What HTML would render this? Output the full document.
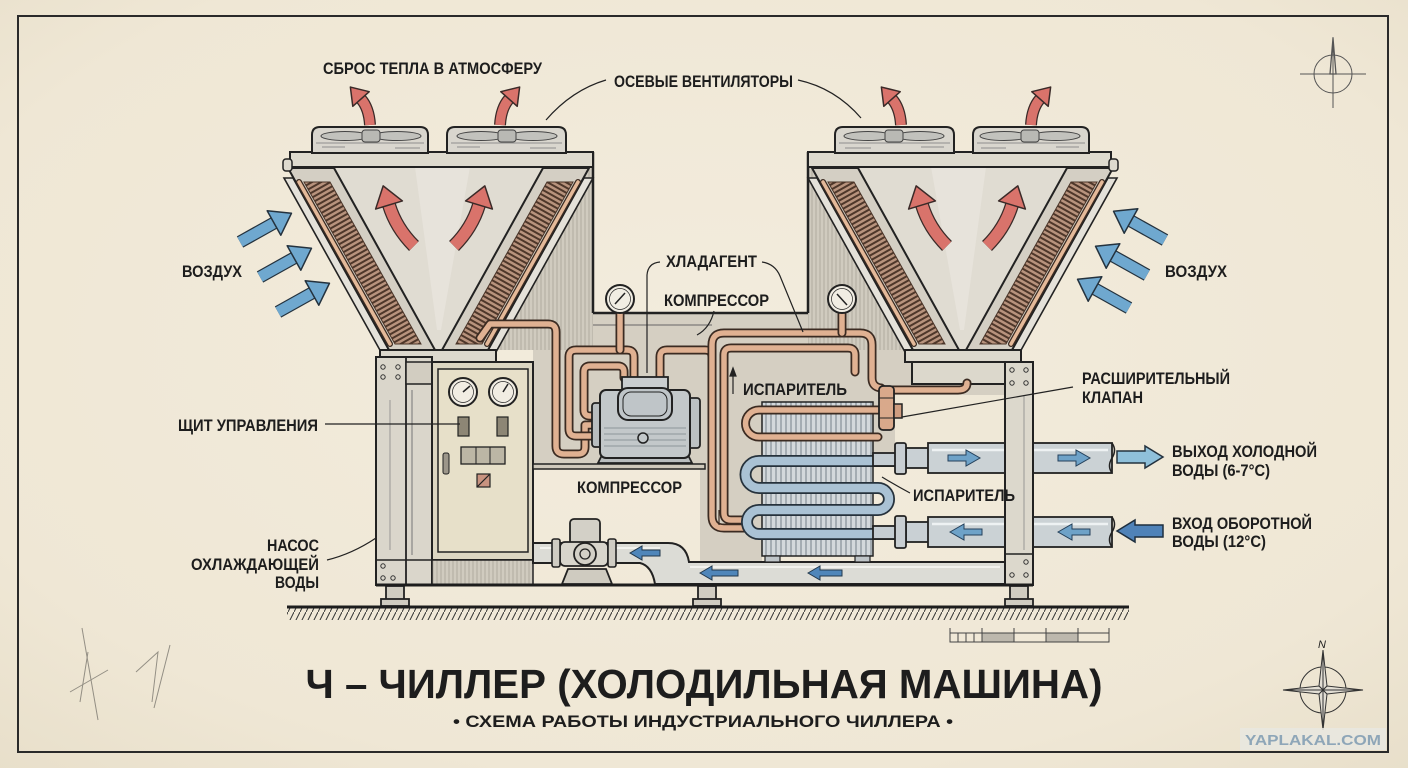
<!DOCTYPE html>
<html><head><meta charset="utf-8"><title>Чиллер</title>
<style>
html,body{margin:0;padding:0;background:#efe8d7;overflow:hidden}
svg{display:block}
text{font-family:"Liberation Sans","DejaVu Sans",sans-serif;fill:#1d1d1d}
.lb{font-size:16.5px;font-weight:bold}
.ld{fill:none;stroke:#222;stroke-width:1.2}
.cpo{fill:none;stroke:#3b2b22;stroke-width:9;stroke-linejoin:round;stroke-linecap:round}
.cpi{fill:none;stroke:#e0b192;stroke-width:5.5;stroke-linejoin:round;stroke-linecap:round}
.bo{fill:none;stroke:#26323c;stroke-width:12;stroke-linejoin:round}
.bi{fill:none;stroke:#aac2d4;stroke-width:8.5;stroke-linejoin:round}
.ro{fill:none;stroke:#3a2a28;stroke-width:12}
.ri{fill:none;stroke:#d9736b;stroke-width:9.5}
.rO{fill:none;stroke:#3a2a28;stroke-width:14}
.rI{fill:none;stroke:#d9736b;stroke-width:11.5}
.ao{fill:none;stroke:#24323e;stroke-width:13}
.ai{fill:none;stroke:#6fa8cf;stroke-width:10.5}
</style></head><body>
<svg width="1408" height="768" viewBox="0 0 1408 768" xmlns="http://www.w3.org/2000/svg">
<defs>
 <radialGradient id="bg" cx="50%" cy="45%" r="75%">
  <stop offset="0" stop-color="#f3ecdd"/>
  <stop offset="0.75" stop-color="#efe7d5"/>
  <stop offset="1" stop-color="#e8dfca"/>
 </radialGradient>
 <pattern id="coil" patternUnits="userSpaceOnUse" width="4.5" height="4.5" patternTransform="rotate(60.7)">
  <rect width="4.5" height="4.5" fill="#b8937d"/>
  <path d="M1,0 L1,4.5" stroke="#4e372a" stroke-width="2"/>
 </pattern>
 <pattern id="coil2" patternUnits="userSpaceOnUse" width="4.5" height="4.5" patternTransform="rotate(-60.7)">
  <rect width="4.5" height="4.5" fill="#b8937d"/>
  <path d="M1,0 L1,4.5" stroke="#4e372a" stroke-width="2"/>
 </pattern>
 <pattern id="vh" patternUnits="userSpaceOnUse" width="4" height="4">
  <rect width="4" height="4" fill="#d0cbbf"/>
  <path d="M1,0 L1,4" stroke="#a29d92" stroke-width="0.7"/>
 </pattern>
 <pattern id="fins" patternUnits="userSpaceOnUse" width="5" height="10">
  <rect width="5" height="10" fill="#d3d8db"/>
  <path d="M1,0 L1,10" stroke="#7d8990" stroke-width="1.1"/>
 </pattern>
 <pattern id="gh" patternUnits="userSpaceOnUse" width="6" height="12">
  <path d="M0,12 L6,0" stroke="#333" stroke-width="1"/>
 </pattern>
 <marker id="rhS" markerUnits="userSpaceOnUse" viewBox="0 0 16 22" refX="0" refY="11" markerWidth="16" markerHeight="22" orient="auto" style="overflow:visible">
  <path d="M0,0 L16,11 L0,22 Z" fill="#d9736b" stroke="#3a2a28" stroke-width="1.5" stroke-linejoin="round"/>
 </marker>
 <marker id="rhL" markerUnits="userSpaceOnUse" viewBox="0 0 20 28" refX="0" refY="14" markerWidth="20" markerHeight="28" orient="auto" style="overflow:visible">
  <path d="M0,0 L20,14 L0,28 Z" fill="#d9736b" stroke="#3a2a28" stroke-width="1.5" stroke-linejoin="round"/>
 </marker>
 <marker id="bh" markerUnits="userSpaceOnUse" viewBox="0 0 20 28" refX="0" refY="14" markerWidth="20" markerHeight="28" orient="auto" style="overflow:visible">
  <path d="M0,0 L20,14 L0,28 Z" fill="#6fa8cf" stroke="#24323e" stroke-width="1.5" stroke-linejoin="round"/>
 </marker>

 <g id="uL">
  <polygon points="580,166 593,166 593,350 486,350" fill="url(#vh)"/>
  <line x1="593" y1="152" x2="593" y2="313" stroke="#222" stroke-width="2.5"/>
  <polygon points="333,167 544,167 442,350 435,350" fill="#e0dcd2"/>
  <polygon points="415,167 470,167 441,330 437,330" fill="#e9e6de" opacity="0.7"/>
  <polygon points="284,178 293,178 390,352 381,352" fill="#e4e1d9" stroke="#222" stroke-width="1.6"/>
  <polygon points="288,168 334,168 435,350 389,350" fill="#d4cfc4" stroke="#222" stroke-width="2"/>
  <polygon points="304,182 330,182 421,344 395,344" fill="url(#coil)" stroke="#4a3428" stroke-width="1"/>
  <line x1="299" y1="182" x2="390" y2="344" stroke="#3b2b22" stroke-width="6" stroke-linecap="round"/>
  <line x1="299" y1="182" x2="390" y2="344" stroke="#e4b999" stroke-width="3.5" stroke-linecap="round"/>
  <polygon points="593,178 584,178 487,352 496,352" fill="#e4e1d9" stroke="#222" stroke-width="1.6"/>
  <polygon points="589,168 543,168 442,350 488,350" fill="#d4cfc4" stroke="#222" stroke-width="2"/>
  <polygon points="573,182 547,182 456,344 482,344" fill="url(#coil2)" stroke="#4a3428" stroke-width="1"/>
  <line x1="578" y1="182" x2="487" y2="344" stroke="#3b2b22" stroke-width="6" stroke-linecap="round"/>
  <line x1="578" y1="182" x2="487" y2="344" stroke="#e4b999" stroke-width="3.5" stroke-linecap="round"/>
  <rect x="380" y="350" width="116" height="12" fill="#dcd8cd" stroke="#222" stroke-width="2"/>
  <rect x="290" y="152" width="303" height="15" fill="#dedace" stroke="#222" stroke-width="2"/>
  <rect x="283" y="159" width="9" height="12" rx="3" fill="#dedace" stroke="#222" stroke-width="1.5"/>
  <path d="M312,153 L312,135 Q312,127 320,127 L420,127 Q428,127 428,135 L428,153 Z" fill="#d9d6ce" stroke="#222" stroke-width="2"/>
  <path d="M447,153 L447,135 Q447,127 455,127 L558,127 Q566,127 566,135 L566,153 Z" fill="#d9d6ce" stroke="#222" stroke-width="2"/>
  <g fill="#c2c2bd" stroke="#444" stroke-width="1">
   <ellipse cx="345" cy="136" rx="24" ry="4.5"/><ellipse cx="397" cy="136" rx="24" ry="4.5"/>
   <rect x="362" y="130" width="18" height="12" rx="3" fill="#b9b9b4"/>
   <ellipse cx="481" cy="136" rx="24" ry="4.5"/><ellipse cx="533" cy="136" rx="24" ry="4.5"/>
   <rect x="498" y="130" width="18" height="12" rx="3" fill="#b9b9b4"/>
  </g>
  <g stroke="#777" stroke-width="0.8">
   <line x1="316" y1="143" x2="424" y2="143"/><line x1="451" y1="143" x2="562" y2="143"/>
   <line x1="322" y1="147" x2="345" y2="147"/><line x1="395" y1="148" x2="420" y2="148"/>
   <line x1="457" y1="147" x2="480" y2="147"/><line x1="530" y1="148" x2="556" y2="148"/>
  </g>
  <path class="ro" d="M370,125 Q369,108 361,99"/><path class="ri" d="M370,125 Q369,108 361,99" marker-end="url(#rhS)"/>
  <path class="ro" d="M500,125 Q501,108 509,99"/><path class="ri" d="M500,125 Q501,108 509,99" marker-end="url(#rhS)"/>
  <path class="rO" d="M414,246 Q396,228 389,205"/><path class="rI" d="M414,246 Q396,228 389,205" marker-end="url(#rhL)"/>
  <path class="rO" d="M454,246 Q472,228 479,205"/><path class="rI" d="M454,246 Q472,228 479,205" marker-end="url(#rhL)"/>
 </g>
</defs>

<rect width="1408" height="768" fill="url(#bg)"/>
<rect x="18" y="16" width="1370" height="736" fill="none" stroke="#2a2a2a" stroke-width="2"/>

<g stroke="#555" fill="none" stroke-width="1">
 <circle cx="1333" cy="74" r="19"/>
 <line x1="1300" y1="74" x2="1366" y2="74"/>
 <line x1="1333" y1="37" x2="1333" y2="108"/>
 <polygon points="1330,74 1336,74 1333,38" stroke-width="1.3"/>
</g>

<g stroke="#6d6a63" stroke-width="1" fill="none" opacity="0.7">
 <path d="M82,628 L98,720"/><path d="M70,692 L108,670"/><path d="M88,652 L80,702"/>
 <path d="M136,672 L158,652 L152,702"/><path d="M170,645 L154,708"/>
</g>

<rect x="533" y="313" width="472" height="154" fill="#d5cfc2"/>
<rect x="700" y="467" width="62" height="95" fill="#d5cfc2"/>
<rect x="895" y="395" width="110" height="72" fill="#efe8d7"/>
<line x1="593" y1="313" x2="808" y2="313" stroke="#222" stroke-width="2.5"/>
<line x1="560" y1="325" x2="712" y2="325" stroke="#666" stroke-width="1"/>

<use href="#uL"/>
<use href="#uL" transform="translate(1401,0) scale(-1,1)"/>

<rect x="912" y="362" width="93" height="22" fill="#dcd8cc" stroke="#222" stroke-width="2"/>

<rect x="376" y="357" width="56" height="228" fill="#dad6cb" stroke="#222" stroke-width="2"/>
<line x1="406" y1="357" x2="406" y2="585" stroke="#222" stroke-width="1.8"/>
<rect x="406" y="362" width="26" height="22" fill="#d2cdc1" stroke="#222" stroke-width="1.5"/>
<line x1="412" y1="390" x2="412" y2="555" stroke="#777" stroke-width="1"/>
<line x1="390" y1="400" x2="390" y2="550" stroke="#888" stroke-width="0.8"/>
<g fill="none" stroke="#333" stroke-width="1">
 <circle cx="383" cy="367" r="2.2"/><circle cx="398" cy="367" r="2.2"/>
 <circle cx="383" cy="377" r="2.2"/><circle cx="398" cy="377" r="2.2"/>
 <circle cx="383" cy="566" r="2.2"/><circle cx="383" cy="578" r="2.2"/><circle cx="393" cy="578" r="2.2"/>
</g>
<line x1="376" y1="560" x2="432" y2="560" stroke="#222" stroke-width="1.5"/>

<rect x="432" y="362" width="101" height="198" fill="#dcd6c2" stroke="#222" stroke-width="2"/>
<rect x="438" y="369" width="90" height="183" fill="#e7e0c9" stroke="#222" stroke-width="1.5"/>
<rect x="432" y="560" width="101" height="25" fill="url(#vh)" stroke="#222" stroke-width="1.5"/>
<g stroke="#222">
 <circle cx="463" cy="392" r="14" fill="#f1ede3" stroke-width="2"/>
 <circle cx="463" cy="392" r="10.5" fill="none" stroke-width="0.7"/>
 <line x1="463" y1="392" x2="470" y2="386" stroke-width="1.5"/>
 <circle cx="503" cy="392" r="14" fill="#f1ede3" stroke-width="2"/>
 <circle cx="503" cy="392" r="10.5" fill="none" stroke-width="0.7"/>
 <line x1="503" y1="392" x2="508" y2="384" stroke-width="1.5"/>
 <rect x="458" y="417" width="11" height="19" fill="#8d8675" stroke-width="1.2"/>
 <rect x="497" y="417" width="11" height="19" fill="#8d8675" stroke-width="1.2"/>
 <rect x="461" y="447" width="44" height="17" fill="#bcb6a5" stroke-width="1.3"/>
 <line x1="476" y1="447" x2="476" y2="464" stroke-width="1"/><line x1="490" y1="447" x2="490" y2="464" stroke-width="1"/>
 <rect x="477" y="474" width="13" height="13" fill="#c99380" stroke-width="1.2"/>
 <line x1="477" y1="487" x2="490" y2="474" stroke-width="1.2"/>
 <rect x="443" y="453" width="6" height="21" rx="2" fill="#9c968a" stroke-width="1"/>
</g>

<rect x="533" y="464" width="172" height="5" fill="#cfc9bc" stroke="#222" stroke-width="1.5"/>

<path d="M533,543 L668,543 Q686,543 689,562 L1005,562 L1005,584 L655,584 Q652,566 640,563 L533,563 Z" fill="#dcdcd6" stroke="#222" stroke-width="2"/>
<line x1="540" y1="548" x2="660" y2="548" stroke="#f2f2ee" stroke-width="2"/>
<line x1="690" y1="567" x2="1000" y2="567" stroke="#f2f2ee" stroke-width="2"/>
<g fill="#4f86ba" stroke="#22384c" stroke-width="1">
 <polygon points="630,553 642,546 642,550 660,550 660,556 642,556 642,560"/>
 <polygon points="700,573 712,566 712,570 738,570 738,576 712,576 712,580"/>
 <polygon points="808,573 820,566 820,570 842,570 842,576 820,576 820,580"/>
</g>

<g stroke="#222">
 <polygon points="562,584 612,584 606,569 568,569" fill="#cfcbc0" stroke-width="1.8"/>
 <rect x="570" y="519" width="30" height="27" rx="4" fill="#d3d0c7" stroke-width="1.8"/>
 <rect x="560" y="542" width="48" height="24" rx="5" fill="#d8d5cc" stroke-width="1.8"/>
 <circle cx="585" cy="554" r="11" fill="#d3d0c7" stroke-width="1.8"/>
 <circle cx="585" cy="554" r="5" fill="none" stroke-width="1.3"/>
 <rect x="552" y="539" width="8" height="28" rx="2" fill="#cfccc3" stroke-width="1.6"/>
 <rect x="608" y="539" width="8" height="28" rx="2" fill="#cfccc3" stroke-width="1.6"/>
</g>

<rect x="762" y="402" width="111" height="154" fill="url(#fins)" stroke="#222" stroke-width="1.5"/>
<rect x="765" y="556" width="15" height="6" fill="#bfc5c8" stroke="#222" stroke-width="1.2"/>
<rect x="855" y="556" width="15" height="6" fill="#bfc5c8" stroke="#222" stroke-width="1.2"/>

<g>
 <path class="cpo" d="M480,338 L490,324 L548,324 Q556,324 556,332 L556,446 Q556,454 564,454 L578,454 Q585,454 585,447 L585,425 L596,425"/>
 <path class="cpi" d="M480,338 L490,324 L548,324 Q556,324 556,332 L556,446 Q556,454 564,454 L578,454 Q585,454 585,447 L585,425 L596,425"/>
 <path class="cpo" d="M596,436 L576,436 Q569,436 569,429 L569,357 Q569,350 576,350 L627,350 Q634,350 634,357 L634,378"/>
 <path class="cpi" d="M596,436 L576,436 Q569,436 569,429 L569,357 Q569,350 576,350 L627,350 Q634,350 634,357 L634,378"/>
 <path class="cpo" d="M596,416 L590,416 Q584,416 584,410 L584,372 Q584,366 590,366 L618,366 Q624,366 624,372 L624,378"/>
 <path class="cpi" d="M596,416 L590,416 Q584,416 584,410 L584,372 Q584,366 590,366 L618,366 Q624,366 624,372 L624,378"/>
 <path class="cpo" d="M620,313 L620,350"/><path class="cpi" d="M620,313 L620,350"/>
 <path class="cpo" d="M660,378 L660,357 Q660,350 667,350 L705,350 Q712,350 712,357"/>
 <path class="cpi" d="M660,378 L660,357 Q660,350 667,350 L705,350 Q712,350 712,357"/>
 <path class="cpo" d="M745,520 L731,520 Q724,520 724,513 L724,355 Q724,348 731,348 L848,348 Q855,348 855,355 L855,372"/>
 <path class="cpi" d="M745,520 L731,520 Q724,520 724,513 L724,355 Q724,348 731,348 L848,348 Q855,348 855,355 L855,372"/>
 <path class="cpo" d="M745,528 L724,528 Q712,528 712,516 L712,345 Q712,333 724,333 L860,333 Q872,333 872,345 L872,378 Q872,387 881,388 L886,392"/>
 <path class="cpi" d="M745,528 L724,528 Q712,528 712,516 L712,345 Q712,333 724,333 L860,333 Q872,333 872,345 L872,378 Q872,387 881,388 L886,392"/>
 <path class="cpo" d="M886,390 L958,390 Q967,390 967,383"/><path class="cpi" d="M886,390 L958,390 Q967,390 967,383"/>
 <path class="cpo" d="M842,314 L842,333"/><path class="cpi" d="M842,314 L842,333"/>
 <path class="cpo" d="M886,410 L759,410 A13.5,13.5 0 0 0 759,437 L878,437"/>
 <path class="cpi" d="M886,410 L759,410 A13.5,13.5 0 0 0 759,437 L878,437"/>
</g>
<g stroke="#222" stroke-width="1.2" fill="#222">
 <line x1="733" y1="394" x2="733" y2="374"/><polygon points="733,368 730,376 736,376"/>
 <line x1="719" y1="525" x2="719" y2="510" stroke="#3b2b22"/>
</g>
<rect x="879" y="386" width="15" height="44" rx="4" fill="#d9a98b" stroke="#222" stroke-width="1.8"/>
<line x1="879" y1="398" x2="894" y2="398" stroke="#222" stroke-width="1"/>
<line x1="879" y1="418" x2="894" y2="418" stroke="#222" stroke-width="1"/>
<rect x="894" y="404" width="8" height="14" fill="#cf9d80" stroke="#222" stroke-width="1.5"/>

<path class="bo" d="M895,461 L759,461 A13.5,13.5 0 0 0 759,488 L878,488 A11,11 0 0 1 878,510 L759,510 A12,12 0 0 0 759,534 L895,534"/>
<path class="bi" d="M895,461 L759,461 A13.5,13.5 0 0 0 759,488 L878,488 A11,11 0 0 1 878,510 L759,510 A12,12 0 0 0 759,534 L895,534"/>

<g stroke="#222">
 <polygon points="598,463 692,463 688,455 602,455" fill="#b9bdbe" stroke-width="1.8"/>
 <rect x="592" y="403" width="10" height="44" rx="3" fill="#b8bdbf" stroke-width="1.8"/>
 <rect x="688" y="398" width="12" height="50" rx="3" fill="#bcc1c3" stroke-width="1.8"/>
 <rect x="600" y="390" width="90" height="68" rx="6" fill="#c3c8ca" stroke-width="2"/>
 <g stroke="#7d868a" stroke-width="0.8">
  <line x1="604" y1="428" x2="686" y2="428"/><line x1="604" y1="434" x2="686" y2="434"/>
  <line x1="604" y1="440" x2="686" y2="440"/><line x1="604" y1="446" x2="686" y2="446"/>
 </g>
 <rect x="622" y="377" width="46" height="14" fill="#c9cdcf" stroke-width="1.8"/>
 <rect x="618" y="388" width="54" height="32" rx="10" fill="#bfc5c8" stroke-width="2"/>
 <rect x="623" y="392" width="44" height="24" rx="8" fill="none" stroke-width="1"/>
 <circle cx="643" cy="438" r="5" fill="#c3c8ca" stroke-width="1.5"/>
</g>

<g stroke="#222" stroke-width="1.8">
 <rect x="873" y="453" width="23" height="13" fill="#c5cdd2"/>
 <rect x="873" y="526" width="23" height="13" fill="#c5cdd2"/>
 <rect x="906" y="448" width="24" height="20" fill="#c9d0d4"/>
 <rect x="906" y="522" width="24" height="20" fill="#c9d0d4"/>
 <rect x="928" y="443" width="184" height="30" fill="#cbd2d5"/>
 <rect x="928" y="517" width="184" height="30" fill="#cbd2d5"/>
 <rect x="895" y="443" width="11" height="31" rx="2" fill="#c8ced2"/>
 <rect x="895" y="516" width="11" height="32" rx="2" fill="#c8ced2"/>
</g>
<g stroke="#eef2f3" stroke-width="2.5"><line x1="932" y1="450" x2="1108" y2="450"/><line x1="932" y1="524" x2="1108" y2="524"/></g>
<g fill="none" stroke="#222" stroke-width="1.5">
 <path d="M1112,443 q5,7 0,15 q-5,8 0,15"/><path d="M1112,517 q5,7 0,15 q-5,8 0,15"/>
</g>
<g fill="#6ea2c8" stroke="#24405a" stroke-width="1">
 <polygon points="948,455 966,455 966,450 980,458 966,466 966,461 948,461"/>
 <polygon points="1058,455 1076,455 1076,450 1090,458 1076,466 1076,461 1058,461"/>
 <polygon points="950,532 964,524 964,529 982,529 982,535 964,535 964,540"/>
 <polygon points="1058,532 1072,524 1072,529 1090,529 1090,535 1072,535 1072,540"/>
</g>

<rect x="1005" y="362" width="28" height="223" fill="#dcd8cc" stroke="#222" stroke-width="2"/>
<line x1="1024" y1="395" x2="1024" y2="550" stroke="#888" stroke-width="0.8"/>
<g fill="none" stroke="#333" stroke-width="1">
 <circle cx="1012" cy="370" r="2.2"/><circle cx="1026" cy="370" r="2.2"/>
 <circle cx="1012" cy="383" r="2.2"/><circle cx="1026" cy="383" r="2.2"/>
 <circle cx="1026" cy="562" r="2.2"/><circle cx="1012" cy="575" r="2.2"/><circle cx="1026" cy="575" r="2.2"/>
</g>
<line x1="1005" y1="554" x2="1033" y2="554" stroke="#222" stroke-width="1.5"/>

<g stroke="#222">
 <circle cx="620" cy="299" r="14" fill="#f1ede3" stroke-width="2"/>
 <circle cx="620" cy="299" r="10.5" fill="none" stroke-width="0.7"/>
 <line x1="615" y1="304" x2="625" y2="293" stroke-width="1.5"/>
 <circle cx="842" cy="299" r="14" fill="#f1ede3" stroke-width="2"/>
 <circle cx="842" cy="299" r="10.5" fill="none" stroke-width="0.7"/>
 <line x1="837" y1="294" x2="847" y2="305" stroke-width="1.5"/>
</g>

<g fill="#d0ccc1" stroke="#222" stroke-width="1.8">
 <rect x="386" y="586" width="18" height="14"/><rect x="381" y="599" width="28" height="7"/>
 <rect x="698" y="586" width="18" height="14"/><rect x="693" y="599" width="28" height="7"/>
 <rect x="1010" y="586" width="18" height="14"/><rect x="1005" y="599" width="28" height="7"/>
</g>
<line x1="376" y1="585" x2="1033" y2="585" stroke="#1d1d1d" stroke-width="3"/>
<rect x="287" y="608" width="842" height="12" fill="url(#gh)"/>
<line x1="287" y1="607" x2="1129" y2="607" stroke="#1d1d1d" stroke-width="3"/>

<path class="ao" d="M240,242 L274,223"/><path class="ai" d="M240,242 L274,223" marker-end="url(#bh)"/>
<path class="ao" d="M260,277 L294,258"/><path class="ai" d="M260,277 L294,258" marker-end="url(#bh)"/>
<path class="ao" d="M278,312 L312,293"/><path class="ai" d="M278,312 L312,293" marker-end="url(#bh)"/>
<path class="ao" d="M1165,240 L1131,221"/><path class="ai" d="M1165,240 L1131,221" marker-end="url(#bh)"/>
<path class="ao" d="M1147,275 L1113,256"/><path class="ai" d="M1147,275 L1113,256" marker-end="url(#bh)"/>
<path class="ao" d="M1129,308 L1095,289"/><path class="ai" d="M1129,308 L1095,289" marker-end="url(#bh)"/>

<polygon points="1117,451 1145,451 1145,446 1163,457 1145,468 1145,463 1117,463" fill="#8fc0da" stroke="#24323e" stroke-width="1.5"/>
<polygon points="1117,531 1135,520 1135,525 1163,525 1163,537 1135,537 1135,542" fill="#4f82b8" stroke="#1e2e3e" stroke-width="1.5"/>

<path class="ld" d="M606,80 Q572,90 546,120"/>
<path class="ld" d="M798,80 Q835,88 861,118"/>
<path class="ld" d="M325,424 L460,424"/>
<path class="ld" d="M327,560 Q352,554 376,538"/>
<path class="ld" d="M660,262 Q648,263 647,275 L647,373"/>
<path class="ld" d="M762,262 Q775,264 780,276 L803,332"/>
<path class="ld" d="M714,311 Q710,328 697,335"/>
<path class="ld" d="M1073,387 L902,417"/>
<path class="ld" d="M910,493 Q895,485 882,477"/>

<text class="lb" x="323" y="74" textLength="219" lengthAdjust="spacingAndGlyphs">СБРОС ТЕПЛА В АТМОСФЕРУ</text>
<text class="lb" x="614" y="87" textLength="179" lengthAdjust="spacingAndGlyphs">ОСЕВЫЕ ВЕНТИЛЯТОРЫ</text>
<text class="lb" x="182" y="277" textLength="60" lengthAdjust="spacingAndGlyphs">ВОЗДУХ</text>
<text class="lb" x="1165" y="277" textLength="62" lengthAdjust="spacingAndGlyphs">ВОЗДУХ</text>
<text class="lb" x="666" y="267" textLength="91" lengthAdjust="spacingAndGlyphs">ХЛАДАГЕНТ</text>
<text class="lb" x="664" y="306" textLength="105" lengthAdjust="spacingAndGlyphs">КОМПРЕССОР</text>
<text class="lb" x="178" y="431" textLength="140" lengthAdjust="spacingAndGlyphs">ЩИТ УПРАВЛЕНИЯ</text>
<text class="lb" x="319" y="551" text-anchor="end" textLength="52" lengthAdjust="spacingAndGlyphs">НАСОС</text>
<text class="lb" x="319" y="570" text-anchor="end" textLength="128" lengthAdjust="spacingAndGlyphs">ОХЛАЖДАЮЩЕЙ</text>
<text class="lb" x="319" y="588" text-anchor="end" textLength="44" lengthAdjust="spacingAndGlyphs">ВОДЫ</text>
<text class="lb" x="577" y="493" textLength="105" lengthAdjust="spacingAndGlyphs">КОМПРЕССОР</text>
<text class="lb" x="743" y="395" textLength="104" lengthAdjust="spacingAndGlyphs">ИСПАРИТЕЛЬ</text>
<text class="lb" x="913" y="501" textLength="102" lengthAdjust="spacingAndGlyphs">ИСПАРИТЕЛЬ</text>
<text class="lb" x="1082" y="384" textLength="148" lengthAdjust="spacingAndGlyphs">РАСШИРИТЕЛЬНЫЙ</text>
<text class="lb" x="1082" y="403" textLength="61" lengthAdjust="spacingAndGlyphs">КЛАПАН</text>
<text class="lb" x="1172" y="457" textLength="145" lengthAdjust="spacingAndGlyphs">ВЫХОД ХОЛОДНОЙ</text>
<text class="lb" x="1172" y="476" textLength="98" lengthAdjust="spacingAndGlyphs">ВОДЫ (6-7°C)</text>
<text class="lb" x="1172" y="529" textLength="140" lengthAdjust="spacingAndGlyphs">ВХОД ОБОРОТНОЙ</text>
<text class="lb" x="1172" y="547" textLength="94" lengthAdjust="spacingAndGlyphs">ВОДЫ (12°C)</text>

<g stroke="#444" stroke-width="1">
 <rect x="950" y="633" width="159" height="9" fill="none"/>
 <rect x="982" y="633" width="32" height="9" fill="#bdb8ad"/>
 <rect x="1046" y="633" width="32" height="9" fill="#bdb8ad"/>
 <line x1="950" y1="628" x2="950" y2="642"/><line x1="982" y1="628" x2="982" y2="642"/>
 <line x1="1014" y1="628" x2="1014" y2="642"/><line x1="1046" y1="628" x2="1046" y2="642"/>
 <line x1="1078" y1="628" x2="1078" y2="642"/><line x1="1109" y1="628" x2="1109" y2="642"/>
 <line x1="958" y1="633" x2="958" y2="642"/><line x1="966" y1="633" x2="966" y2="642"/><line x1="974" y1="633" x2="974" y2="642"/>
</g>

<text x="704" y="698" text-anchor="middle" font-size="41" font-weight="bold" textLength="797" lengthAdjust="spacingAndGlyphs">Ч – ЧИЛЛЕР (ХОЛОДИЛЬНАЯ МАШИНА)</text>
<text x="703" y="727" text-anchor="middle" font-size="16.5" font-weight="bold" textLength="500" lengthAdjust="spacingAndGlyphs">• СХЕМА РАБОТЫ ИНДУСТРИАЛЬНОГО ЧИЛЛЕРА •</text>

<g stroke="#333" stroke-width="1">
 <circle cx="1323" cy="690" r="23" fill="none"/>
 <polygon points="1323,650 1327,686 1323,690 1319,686" fill="#e2ded4"/>
 <polygon points="1323,730 1327,694 1323,690 1319,694" fill="#e2ded4"/>
 <polygon points="1283,690 1319,686 1323,690 1319,694" fill="#e2ded4"/>
 <polygon points="1363,690 1327,686 1323,690 1327,694" fill="#e2ded4"/>
 <line x1="1323" y1="650" x2="1323" y2="730"/><line x1="1283" y1="690" x2="1363" y2="690"/>
</g>
<text x="1318" y="648" font-size="11" font-style="italic">N</text>

<rect x="1240" y="728" width="146" height="22" fill="#e9e7e1" opacity="0.85"/>
<text x="1313" y="745" text-anchor="middle" font-size="15" font-weight="bold" style="fill:#8ea6b8" textLength="136" lengthAdjust="spacingAndGlyphs">YAPLAKAL.COM</text>
</svg>
</body></html>
